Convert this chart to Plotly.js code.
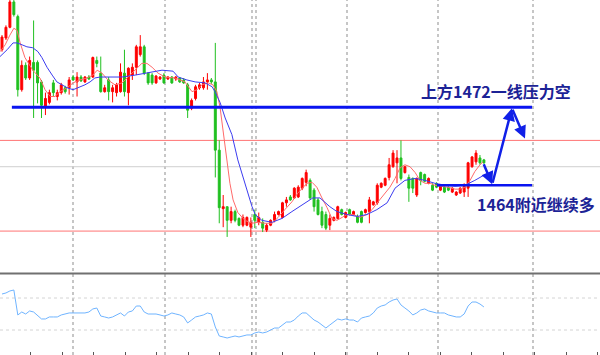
<!DOCTYPE html>
<html>
<head>
<meta charset="utf-8">
<script src="https://cdn.plot.ly/plotly-3.0.1.min.js"></script>
<style>html,body{margin:0;padding:0;background:#fff;}#chart{width:600px;height:355px;}</style>
</head>
<body>
<div id="chart"></div>
<script>
// ---- candle data (price) ----
const openP = [1477.9,1479.1,1480.2,1482.8,1481.3,1473.8,1476.3,1475.0,1476.6,1476.6,
1474.6,1472.0,1472.5,1474.5,1473.1,1473.5,1474.0,1474.0,1475.1,1474.6,
1475.1,1474.6,1475.1,1475.1,1476.8,1475.5,1473.6,1474.8,1473.6,1473.5,
1473.6,1475.5,1473.5,1475.3,1476.1,1477.4,1478.2,1475.5,1475.3,1474.5,
1474.9,1475.3,1474.9,1475.1,1474.9,1475.0,1474.8,1474.3,1471.9,1472.9,
1474.0,1474.0,1474.6,1474.8,1474.6,1467.6,1461.6,1461.8,1460.4,1461.3,
1460.6,1459.9,1459.9,1459.7,1461.0,1460.2,1460.2,1459.4,1459.9,1460.4,
1461.0,1460.7,1462.2,1462.8,1462.7,1462.8,1463.7,1464.3,1464.5,1463.5,
1462.5,1461.3,1461.0,1459.9,1460.4,1460.6,1461.5,1460.7,1461.5,1461.0,
1460.8,1461.3,1461.2,1461.3,1462.0,1462.2,1463.8,1464.0,1464.8,1465.9,
1466.3,1466.8,1465.3,1464.8,1464.7,1463.0,1465.3,1465.1,1464.2,1464.0,
1464.2,1463.5,1463.8,1463.8,1463.3,1463.0,1463.2,1463.3,1463.7,1465.9,
1466.4,1466.8,1466.6];
const highP = [1479.4,1480.4,1483.2,1483.2,1481.5,1476.8,1476.6,1477.2,1480.9,1476.8,
1474.8,1473.5,1473.8,1474.8,1473.8,1474.5,1474.2,1475.1,1475.3,1475.6,
1475.3,1475.2,1475.3,1477.2,1477.2,1477.2,1474.3,1475.1,1474.3,1474.5,
1476.5,1477.9,1476.1,1476.5,1478.4,1479.4,1478.4,1475.6,1475.5,1475.3,
1475.2,1475.5,1475.2,1475.2,1475.2,1475.1,1475.0,1474.5,1472.9,1474.3,
1474.5,1475.1,1475.5,1475.0,1478.6,1468.6,1463.0,1461.8,1461.8,1461.5,
1460.7,1461.0,1460.8,1460.7,1461.5,1461.2,1460.6,1460.1,1460.5,1461.3,
1461.4,1462.3,1462.8,1463.0,1463.8,1464.0,1464.8,1465.6,1464.7,1463.7,
1462.7,1461.8,1461.3,1461.0,1460.8,1461.9,1461.6,1461.3,1461.6,1461.4,
1461.0,1461.4,1461.6,1462.8,1462.4,1464.2,1464.3,1464.8,1466.8,1467.6,
1467.6,1468.6,1466.0,1465.1,1464.8,1464.8,1465.4,1465.2,1464.8,1464.2,
1464.3,1464.1,1464.0,1463.9,1463.8,1463.4,1463.8,1464.2,1466.4,1467.0,
1467.6,1467.1,1466.7];
const lowP = [1477.7,1478.9,1480.1,1481.3,1473.1,1473.6,1474.8,1474.8,1470.9,1472.4,
1470.9,1471.2,1472.3,1473.1,1472.7,1473.3,1473.4,1473.3,1474.7,1473.1,
1474.6,1474.5,1474.8,1475.0,1476.1,1473.5,1473.5,1472.7,1472.5,1473.1,
1473.5,1473.1,1472.2,1474.8,1475.3,1477.2,1475.3,1474.3,1474.3,1474.4,
1474.8,1474.4,1474.8,1474.4,1474.7,1474.5,1474.4,1470.9,1471.7,1472.7,
1473.8,1473.8,1473.8,1474.4,1464.8,1460.1,1459.7,1458.7,1460.1,1460.2,
1459.8,1459.7,1459.8,1458.7,1459.6,1459.9,1459.2,1459.2,1459.8,1460.2,
1460.9,1460.6,1461.8,1462.4,1462.6,1462.7,1463.5,1463.9,1462.5,1461.3,
1460.9,1459.6,1459.4,1459.4,1460.3,1460.5,1460.9,1460.6,1460.9,1460.9,
1460.1,1460.1,1461.1,1460.1,1461.9,1462.0,1463.7,1463.9,1464.5,1465.8,
1464.2,1464.5,1465.2,1462.3,1463.2,1462.8,1464.0,1464.3,1464.1,1463.4,
1463.7,1463.4,1463.2,1463.4,1463.2,1462.9,1463.1,1462.8,1462.8,1465.8,
1466.1,1466.1,1466.2];
const closeP = [1479.2,1480.2,1482.8,1481.5,1473.8,1476.3,1475.0,1476.8,1475.8,1474.5,
1472.2,1472.9,1473.5,1473.5,1473.5,1474.3,1473.6,1474.8,1474.8,1475.1,
1474.7,1475.1,1474.9,1477.1,1476.5,1473.6,1474.0,1473.6,1474.0,1474.3,
1475.6,1473.6,1476.0,1476.1,1478.2,1478.2,1475.5,1474.5,1474.5,1475.2,
1475.1,1474.5,1475.1,1474.5,1475.1,1474.6,1474.5,1471.7,1472.7,1474.1,
1474.3,1474.6,1474.8,1474.6,1467.6,1461.7,1461.8,1460.4,1461.3,1460.4,
1459.9,1460.7,1460.7,1460.2,1460.4,1460.7,1459.6,1459.9,1460.4,1461.0,
1461.3,1462.2,1462.5,1462.5,1463.7,1463.8,1464.7,1465.3,1462.7,1461.8,
1461.0,1459.9,1459.6,1460.6,1460.7,1461.8,1461.0,1461.2,1461.0,1461.3,
1460.2,1460.2,1461.5,1462.5,1462.3,1464.0,1464.2,1464.7,1466.1,1467.3,
1466.8,1464.7,1465.9,1463.7,1463.7,1464.7,1464.5,1464.4,1464.7,1463.5,
1463.8,1464.0,1463.3,1463.5,1463.7,1463.3,1463.7,1464.0,1466.3,1466.9,
1467.3,1466.3,1466.3];

// ---- moving averages (bar index, price) ----
const maFastX = [-0.5,0.8,2.0,3.0,3.8,4.6,5.8,7.8,9.6,10.9,12.2,13.4,14.7,16.5,18.0,19.7,21.5,23.0,24.1,25.3,26.8,28.6,30.4,31.9,33.7,35.4,36.7,38.0,39.5,41.3,43.8,46.3,48.1,49.4,50.6,52.2,53.4,54.4,55.2,56.0,57.0,57.7,58.5,59.7,61.5,63.3,64.8,66.6,68.4,69.9,71.6,73.4,74.9,76.2,77.2,78.5,79.7,81.0,82.3,83.5,84.8,86.1,87.3,88.9,90.6,92.4,93.7,95.2,97.0,98.2,99.5,100.8,102.0,103.3,104.6,105.8,107.1,108.4,109.6,111.4,112.9,114.7,115.9,117.2,118.5,119.7,121.0,121.8];
const maFastY = [1477.7,1478.4,1479.4,1480.1,1479.9,1478.6,1477.1,1475.8,1475.0,1473.8,1473.1,1473.1,1473.6,1474.0,1474.5,1474.8,1475.0,1475.3,1475.8,1475.5,1474.8,1474.3,1474.5,1475.1,1475.8,1476.5,1476.5,1476.1,1475.5,1475.1,1475.0,1474.6,1473.6,1473.8,1474.3,1474.5,1474.3,1473.6,1472.0,1469.4,1466.6,1464.2,1462.5,1461.2,1460.4,1460.1,1460.2,1460.1,1460.1,1460.7,1461.5,1462.3,1463.2,1463.8,1464.2,1464.3,1463.8,1462.7,1461.7,1460.6,1460.4,1460.7,1461.0,1461.0,1460.7,1461.0,1461.5,1462.3,1463.2,1463.8,1464.7,1465.8,1466.1,1465.9,1465.3,1464.5,1464.2,1464.2,1464.0,1463.9,1463.8,1463.6,1463.6,1463.8,1464.5,1465.4,1466.1,1466.4];
const maSlowX = [-0.5,1.3,2.8,3.8,5.1,6.3,7.8,9.1,10.1,11.4,12.7,13.9,15.2,16.5,18.0,19.2,21.0,22.3,23.5,24.8,26.8,30.4,33.7,36.2,38.2,40.5,43.3,44.6,46.8,48.9,51.4,53.2,53.9,55.2,56.5,58.2,59.7,61.5,63.3,64.1,65.8,68.4,70.9,73.4,75.7,78.7,80.5,83.0,84.8,87.3,89.9,92.4,94.9,97.5,99.5,102.0,104.6,107.1,109.6,112.2,114.7,117.2,119.7,122.3];
const maSlowY = [1477.2,1477.9,1478.6,1478.6,1478.4,1478.2,1478.1,1477.7,1477.1,1476.1,1475.3,1474.6,1474.3,1474.0,1473.8,1474.0,1474.3,1474.6,1475.0,1475.1,1475.1,1475.1,1475.3,1475.5,1475.6,1475.8,1475.7,1475.1,1474.8,1474.6,1474.5,1474.1,1473.6,1472.5,1470.9,1469.2,1466.6,1464.2,1461.8,1461.0,1460.4,1460.2,1460.6,1461.3,1461.9,1462.7,1462.7,1461.8,1461.3,1461.0,1460.8,1461.0,1461.5,1462.2,1463.7,1464.5,1464.7,1464.5,1464.2,1464.0,1463.9,1464.0,1464.5,1465.1];

// ---- oscillator (lower panel), one value per bar ----
const osc = [75,76.3,78.8,80,48.8,52.5,50,53.8,52.5,47.5,
43.8,43.8,46.3,46.3,46.3,48.8,50,51.3,51.3,51.3,
51.3,51.3,52.5,56.3,57.5,47.5,46.3,45,46.3,48.8,
51.3,47.5,52.5,53.8,60,60,52.5,50,50,50,
48.8,47.5,48.8,51.3,50,48.8,46.3,38.8,42.5,46.3,
47.5,48.8,51.3,50,33.8,22.5,21.3,20,21.3,22.5,
21.3,22.5,23.8,23.8,26.3,27.5,26.3,27.5,30,32.5,
32.5,36.3,40,40,42.5,47.5,51.3,51.3,46.3,42.5,
40,36.3,32.5,36.3,40,43.8,42.5,43.8,42.5,42.5,
40,45,46.3,47.5,51.3,57.5,60,61.3,65,67.5,
68.8,61.3,57.5,53.8,48.8,51.3,55,56.3,53.8,52.5,
51.3,51.3,51.3,48.8,47.5,46.3,46.3,50,60,65,
65,62.5,58.8];
const oscLevels = [70, 30];

// ---- key levels and annotations ----
const resistance = 1472;
const support = 1464;
const redLevels = [1468.6, 1459.3];
const grayLevel = 1465.9;
const pathX = [121.8, 124.1, 129.1, 132.4];
const pathY = [1466.3, 1464.1, 1471.9, 1468.8];
const textTop = '上方1472一线压力空';
const textBottom = '1464附近继续多';

const idx = openP.map((_, i) => i);

const traces = [
  {type:'candlestick', x: idx, open: openP, high: highP, low: lowP, close: closeP,
   xaxis:'x', yaxis:'y', whiskerwidth:0, hoverinfo:'skip',
   increasing:{line:{color:'#ff0000', width:1}, fillcolor:'#ff0000'},
   decreasing:{line:{color:'#20c020', width:1}, fillcolor:'#20c020'}},
  {type:'scatter', mode:'lines', x: maFastX, y: maFastY, xaxis:'x', yaxis:'y',
   line:{color:'#ff6a6a', width:1}, hoverinfo:'skip'},
  {type:'scatter', mode:'lines', x: maSlowX, y: maSlowY, xaxis:'x', yaxis:'y',
   line:{color:'#3c3cf0', width:1}, hoverinfo:'skip'},
  {type:'scatter', mode:'lines', x: idx, y: osc, xaxis:'x2', yaxis:'y2',
   line:{color:'#6fb4ff', width:1}, hoverinfo:'skip'}
];

const vLines = [73, 165, 252, 256, 347, 438, 533];
const shapes = [];
vLines.forEach(px => shapes.push({type:'line', xref:'paper', yref:'paper', x0:px/600, x1:px/600, y0:0, y1:1,
  line:{color:'#b4b4b4', width:1.5, dash:'dot'}, layer:'below'}));
redLevels.forEach(v => shapes.push({type:'line', xref:'paper', yref:'y', x0:0, x1:1, y0:v, y1:v,
  line:{color:'#ff7474', width:1}, layer:'below'}));
shapes.push({type:'line', xref:'paper', yref:'y', x0:0, x1:1, y0:grayLevel, y1:grayLevel,
  line:{color:'#cfcfcf', width:1}, layer:'below'});
oscLevels.forEach(v => shapes.push({type:'line', xref:'paper', yref:'y2', x0:0, x1:1, y0:v, y1:v,
  line:{color:'#d4d4d4', width:1, dash:'dot'}, layer:'below'}));
shapes.push({type:'line', xref:'paper', yref:'paper', x0:0, x1:1, y0:0.2296, y1:0.2296,
  line:{color:'#707070', width:2}});
shapes.push({type:'line', xref:'x', yref:'y', x0:2.5, x1:134.2, y0:resistance, y1:resistance,
  line:{color:'#0a14f0', width:3}, layer:'above'});
shapes.push({type:'line', xref:'x', yref:'y', x0:110.1, x1:134.2, y0:support, y1:support,
  line:{color:'#0a14f0', width:2.5}, layer:'above'});

const annotations = [];
for (let k = 1; k < pathX.length; k++) {
  annotations.push({x:pathX[k], y:pathY[k], ax:pathX[k-1], ay:pathY[k-1], xref:'x', yref:'y', axref:'x', ayref:'y',
    showarrow:true, arrowhead:2, arrowsize:1, arrowwidth:2.5, arrowcolor:'#1020e8', text:''});
}
const txtFont = {family:'"Noto Sans CJK SC", "Noto Sans", sans-serif', size:16, color:'#1c2396', weight:'bold'};
annotations.push({xref:'paper', yref:'paper', x:496/600, y:1-91/355, text:'<b>'+textTop+'</b>', showarrow:false,
  font:txtFont, xanchor:'center', yanchor:'middle'});
annotations.push({xref:'paper', yref:'paper', x:536/600, y:1-203.5/355, text:'<b>'+textBottom+'</b>', showarrow:false,
  font:txtFont, xanchor:'center', yanchor:'middle'});

const xr = [-0.506, 151.39];
const layout = {
  width:600, height:355, margin:{l:0, r:0, t:0, b:0},
  paper_bgcolor:'#ffffff', plot_bgcolor:'#ffffff', showlegend:false,
  xaxis:{domain:[0,1], range:xr, anchor:'y', showgrid:false, zeroline:false, showticklabels:false,
    ticks:'', rangeslider:{visible:false}, fixedrange:true},
  yaxis:{domain:[83/355, 1], range:[1483 - 272/9.75, 1483], showgrid:false, zeroline:false,
    showticklabels:false, ticks:''},
  xaxis2:{domain:[0,1], range:xr, anchor:'y2', showgrid:false, zeroline:false, showticklabels:false,
    ticks:'inside', ticklen:3, tickcolor:'#555555', tickmode:'linear', tick0:7.34, dtick:7.97},
  yaxis2:{domain:[0, 81/355], range:[-1.25, 100], showgrid:false, zeroline:false,
    showticklabels:false, ticks:''},
  shapes: shapes,
  annotations: annotations
};
Plotly.newPlot('chart', traces, layout, {staticPlot:true, displayModeBar:false});
</script>
</body>
</html>
